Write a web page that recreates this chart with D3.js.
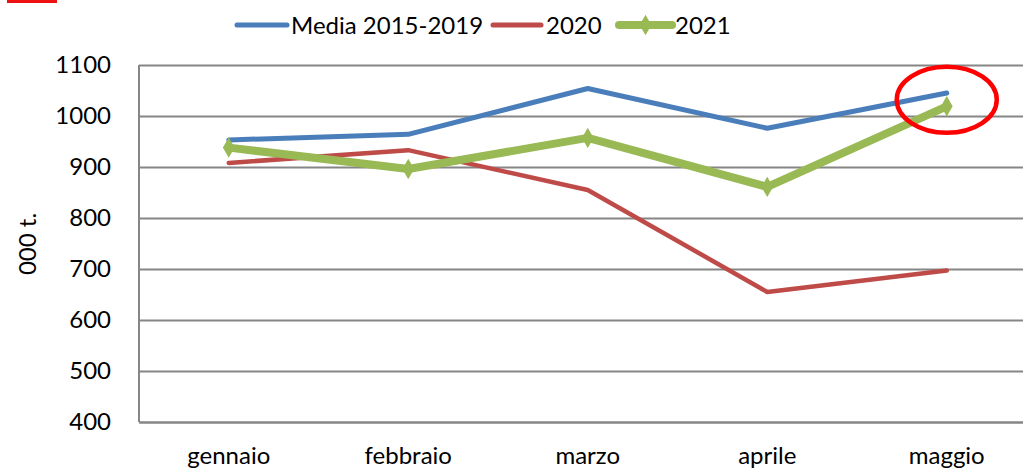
<!DOCTYPE html>
<html>
<head>
<meta charset="utf-8">
<script src="https://cdn.jsdelivr.net/npm/d3@7"></script>
<style>
  body { margin: 0; background: #fff; }
  svg { display: block; font-family: Lato, "Open Sans", sans-serif; }
</style>
</head>
<body>
<div id="chart"></div>
<script>
/* DATA */
const months = ["gennaio", "febbraio", "marzo", "aprile", "maggio"];
const media = [953, 964, 1054, 976, 1045];
const y2020 = [908, 933, 855, 655, 697];
const y2021 = [938, 896, 957, 861, 1019];
const yTicks = [400, 500, 600, 700, 800, 900, 1000, 1100];
const seriesNames = ["Media 2015-2019", "2020", "2021"];

/* CONSTANTS */
const width = 1023, height = 472;
const margin = { top: 65, left: 139, bottom: 50 };
const colors = ["#4a7ebb", "#be4b48", "#98b954"];
const strokes = [5, 4.5, 8];

const svg = d3.select("#chart").append("svg")
  .attr("width", width)
  .attr("height", height);

// SCALES
const xScale = d3.scaleBand()
  .domain(months)
  .range([margin.left, margin.left + 5 * 179.5]);

const yScale = d3.scaleLinear()
  .domain([400, 1100])
  .range([422, margin.top]);

// Y AXIS + GRID
const yAxis = d3.axisLeft(yScale)
  .tickValues(yTicks)
  .tickFormat(d3.format("d"))
  .tickSize(-(xScale.range()[1] - margin.left))
  .tickPadding(28);

const yAxisGroup = svg.append("g")
  .attr("transform", `translate(${margin.left}, 0)`)
  .call(yAxis);

yAxisGroup.select(".domain").remove();
yAxisGroup.selectAll(".tick line")
  .attr("stroke", "#868686")
  .attr("stroke-width", 2);
yAxisGroup.selectAll(".tick text")
  .attr("fill", "#000")
  .attr("font-size", 24)
  .style("font-family", "Lato, sans-serif");

// left axis line
svg.append("line")
  .attr("x1", margin.left).attr("x2", margin.left)
  .attr("y1", yScale(1100)).attr("y2", yScale(400))
  .attr("stroke", "#868686").attr("stroke-width", 2);

// X AXIS labels
const xAxis = d3.axisBottom(xScale).tickSize(0).tickPadding(25);
const xAxisGroup = svg.append("g")
  .attr("transform", `translate(0, ${yScale(400)})`)
  .call(xAxis);
xAxisGroup.select(".domain")
  .attr("stroke", "#868686")
  .attr("stroke-width", 2);
xAxisGroup.selectAll(".tick text")
  .attr("fill", "#000")
  .attr("font-size", 24)
  .style("font-family", "Lato, sans-serif");

// Y TITLE
svg.append("text")
  .attr("transform", `translate(36, 244) rotate(-90)`)
  .attr("text-anchor", "middle")
  .attr("font-size", 24)
  .text("000 t.");

// LINES
const cx = m => xScale(m) + xScale.bandwidth() / 2;
const line = d3.line()
  .x((d, i) => cx(months[i]))
  .y(d => yScale(d));

const allSeries = [media, y2020, y2021];
allSeries.forEach((s, k) => {
  svg.append("path")
    .datum(s)
    .attr("fill", "none")
    .attr("stroke", colors[k])
    .attr("stroke-width", strokes[k])
    .attr("stroke-linecap", "round")
    .attr("stroke-linejoin", "round")
    .attr("d", line);
});

// diamond markers on 2021
const diamond = d3.symbol().type(d3.symbolDiamond).size(120);
svg.selectAll("path.mk")
  .data(y2021)
  .join("path")
  .attr("class", "mk")
  .attr("transform", (d, i) => `translate(${cx(months[i])}, ${yScale(d)})`)
  .attr("d", diamond)
  .attr("fill", colors[2]);

// LEGEND
const legendItems = [
  { x1: 237, x2: 287, tx: 291 },
  { x1: 493, x2: 541, tx: 546 },
  { x1: 619, x2: 672, tx: 675 }
];
legendItems.forEach((d, k) => {
  svg.append("line")
    .attr("x1", d.x1).attr("x2", d.x2)
    .attr("y1", 25).attr("y2", 25)
    .attr("stroke", colors[k])
    .attr("stroke-width", k === 1 ? 5 : strokes[k])
    .attr("stroke-linecap", "round");
  svg.append("text")
    .attr("x", d.tx).attr("y", 34)
    .attr("font-size", 24)
    .text(seriesNames[k]);
});
svg.append("path")
  .attr("transform", `translate(${(legendItems[2].x1 + legendItems[2].x2) / 2}, 25)`)
  .attr("d", diamond)
  .attr("fill", colors[2]);

// highlight circle around May
svg.append("ellipse")
  .attr("cx", cx("maggio"))
  .attr("cy", (yScale(media[4]) + yScale(y2021[4])) / 2)
  .attr("rx", 50)
  .attr("ry", 33)
  .attr("fill", "none")
  .attr("stroke", "#ff0000")
  .attr("stroke-width", 4.5);

// red mark top-left
svg.append("rect")
  .attr("x", 7).attr("y", 0)
  .attr("width", 50).attr("height", 3)
  .attr("fill", "#ee1111");
</script>
</body>
</html>
